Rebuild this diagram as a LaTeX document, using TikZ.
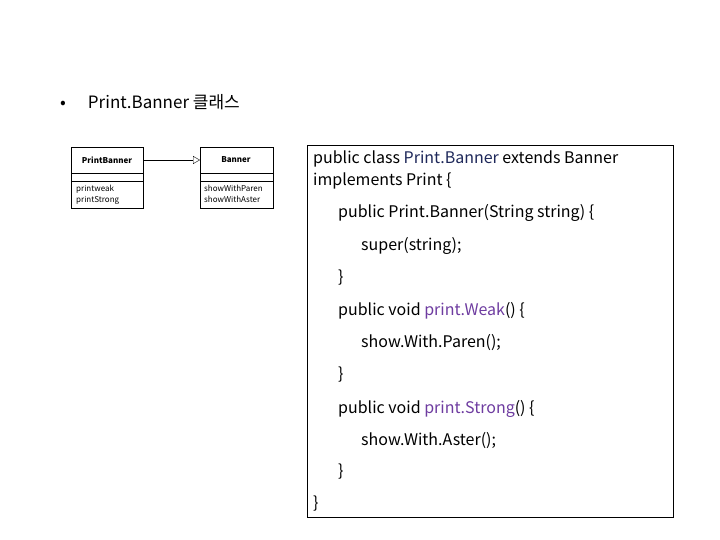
\documentclass[tikz,border=0pt]{standalone}
\usepackage{fontspec}
\setmainfont{Noto Sans CJK KR}
\usetikzlibrary{arrows.meta}
\definecolor{kw}{RGB}{110,60,160}
\definecolor{nv}{RGB}{30,40,90}
\begin{document}
\begin{tikzpicture}[x=1pt,y=-1pt,
  ln/.style={anchor=base west,inner sep=0,font=\fontsize{16}{18}\selectfont},
  sm/.style={inner sep=0,font=\fontsize{8}{9}\selectfont\bfseries},
  ul/.style={inner sep=0,anchor=base west,font=\fontsize{8}{9}\selectfont}]
\useasboundingbox (0,0) rectangle (720,540);
\node[ln,font=\fontsize{17}{19}\selectfont] (title) at (60,109) {•\hspace{22pt}Print.Banner 클래스};
% UML
\draw (71,147) rectangle (143,208);
\draw (71,173) -- (143,173) (71,181) -- (143,181);
\node[sm] (pb) at (107,160) {PrintBanner};
\node[ul] (pw) at (76,192) {printweak};
\node[ul] (ps) at (76,203) {printStrong};
\draw (200,147) rectangle (273,208);
\draw (200,173) -- (273,173) (200,181) -- (273,181);
\node[sm] (bn) at (236,160) {Banner};
\node[ul] (sp) at (204,192) {showWithParen};
\node[ul] (sa) at (204,203) {showWithAster};
\coordinate (a1) at (143,160); \coordinate (a2) at (200,160);
\draw[-{Triangle[open,length=7pt,width=8pt]}] (a1) -- (a2);
% code
\draw (307,145) rectangle (673,517);
\node[ln] (l1) at (313,164) {public class \textcolor{nv}{Print.Banner} extends Banner};
\node[ln] (l2) at (313,186) {implements Print \{};
\node[ln] (l3) at (338,218) {public Print.Banner(String string) \{};
\node[ln] (l4) at (361,250) {super(string);};
\node[ln] (l5) at (338,282) {\}};
\node[ln] (l6) at (338,315) {public void \textcolor{kw}{print.Weak}() \{};
\node[ln] (l7) at (361,347) {show.With.Paren();};
\node[ln] (l8) at (338,379) {\}};
\node[ln] (l9) at (338,413) {public void \textcolor{kw}{print.Strong}() \{};
\node[ln] (l10) at (361,445) {show.With.Aster();};
\node[ln] (l11) at (338,476) {\}};
\node[ln] (l12) at (313,508) {\}};
\end{tikzpicture}
\end{document}
